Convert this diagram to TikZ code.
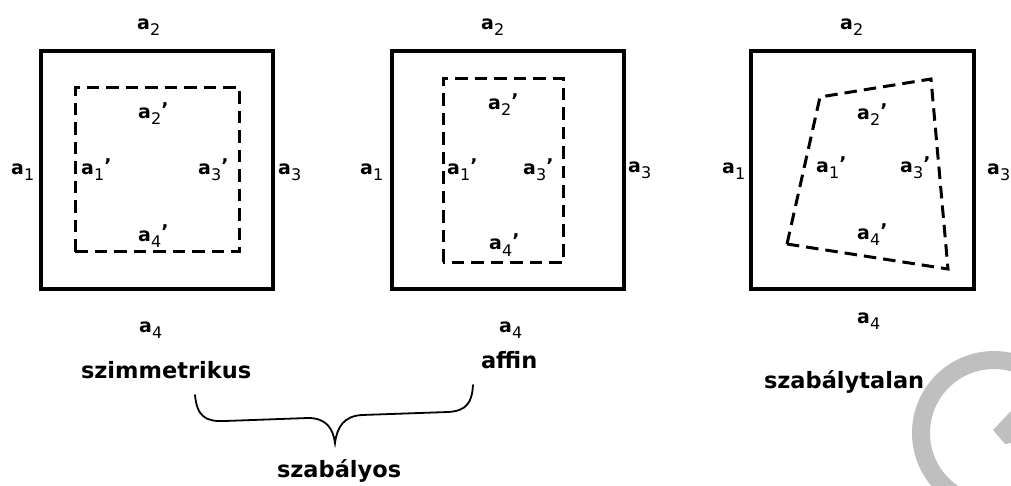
\documentclass[tikz,border=0pt]{standalone}
\usepackage{fontspec}
\setmainfont{DejaVu Sans}
\newcommand{\labA}[1]{{\fontsize{19}{19}\selectfont\bfseries a}\kern0.3pt\raisebox{-6pt}{\fontsize{16}{16}\selectfont #1}}
\newcommand{\labP}[1]{\labA{#1}\raisebox{2.5pt}{\fontsize{19}{19}\selectfont\bfseries ’}}
\begin{document}
\begin{tikzpicture}[x=1pt,y=-1pt,
  lab/.style={anchor=base west,inner sep=0pt,outer sep=0pt},
  word/.style={anchor=base west,inner sep=0pt,outer sep=0pt,font=\fontsize{22.5}{27}\selectfont\bfseries},
  outerbox/.style={draw=black,line width=3.2pt},
  innerbox/.style={draw=black,line width=3pt,dash pattern=on 12.5pt off 7pt},
  bracestyle/.style={draw=black,line width=1.8pt,line cap=round},
  wm/.style={draw=black!25,line width=18pt}]
\useasboundingbox (0,0) rectangle (1011,486);
\begin{scope}
\clip (0,0) rectangle (1011,486);
% watermark
\draw[wm] (994,433) ++(312:73) arc (312:80:73);
\fill[black!25] (993,430) -- (1011,411) -- (1011,443) -- (1005,444) -- cycle;
\end{scope}
% box 1
\draw[outerbox] (41,51) rectangle (273,289);
\draw[innerbox] (75,252) -- (75,88) -- (239,88) -- (239,252) -- cycle;
\node[lab] (b1a2) at (137,30) {\labA{2}};
\node[lab] (b1a1) at (11,175) {\labA{1}};
\node[lab] (b1a3) at (278,175) {\labA{3}};
\node[lab] (b1a4) at (139,332) {\labA{4}};
\node[lab] (b1p2) at (138,119) {\labP{2}};
\node[lab] (b1p1) at (81,175) {\labP{1}};
\node[lab] (b1p3) at (198,175) {\labP{3}};
\node[lab] (b1p4) at (138,241) {\labP{4}};
\node[word] (szim) at (81,378) {szimmetrikus};
% box 2
\draw[outerbox] (392,51) rectangle (624,289);
\draw[innerbox] (443,262) -- (443,79) -- (563,79) -- (563,262) -- cycle;
\node[lab] (b2a2) at (481,30) {\labA{2}};
\node[lab] (b2a1) at (360,175) {\labA{1}};
\node[lab] (b2a3) at (628,173) {\labA{3}};
\node[lab] (b2a4) at (499,332) {\labA{4}};
\node[lab] (b2p2) at (488,110) {\labP{2}};
\node[lab] (b2p1) at (447,175) {\labP{1}};
\node[lab] (b2p3) at (523,175) {\labP{3}};
\node[lab] (b2p4) at (489,250) {\labP{4}};
\node[word] (aff) at (481,368) {affin};
% box 3
\draw[outerbox] (751,51) rectangle (974,289);
\draw[innerbox] (787,244) -- (820,97) -- (931,79) -- (948,269) -- cycle;
\node[lab] (b3a2) at (840,30) {\labA{2}};
\node[lab] (b3a1) at (722,174) {\labA{1}};
\node[lab] (b3a3) at (987,175) {\labA{3}};
\node[lab] (b3a4) at (857,323) {\labA{4}};
\node[lab] (b3p2) at (857,120) {\labP{2}};
\node[lab] (b3p1) at (816,173) {\labP{1}};
\node[lab] (b3p3) at (900,173) {\labP{3}};
\node[lab] (b3p4) at (857,240) {\labP{4}};
\node[word] (szt) at (764,388) {szabálytalan};
% brace
\draw[bracestyle] (195,395) .. controls (197,416) and (205,422) .. (225,421) -- (308,418) .. controls (326,418) and (333,428) .. (335,443) .. controls (337,427) and (344,416) .. (362,415) -- (448,412) .. controls (467,411) and (472,402) .. (473,385);
\node[word] (szab) at (277,477) {szabályos};
\end{tikzpicture}
\end{document}
